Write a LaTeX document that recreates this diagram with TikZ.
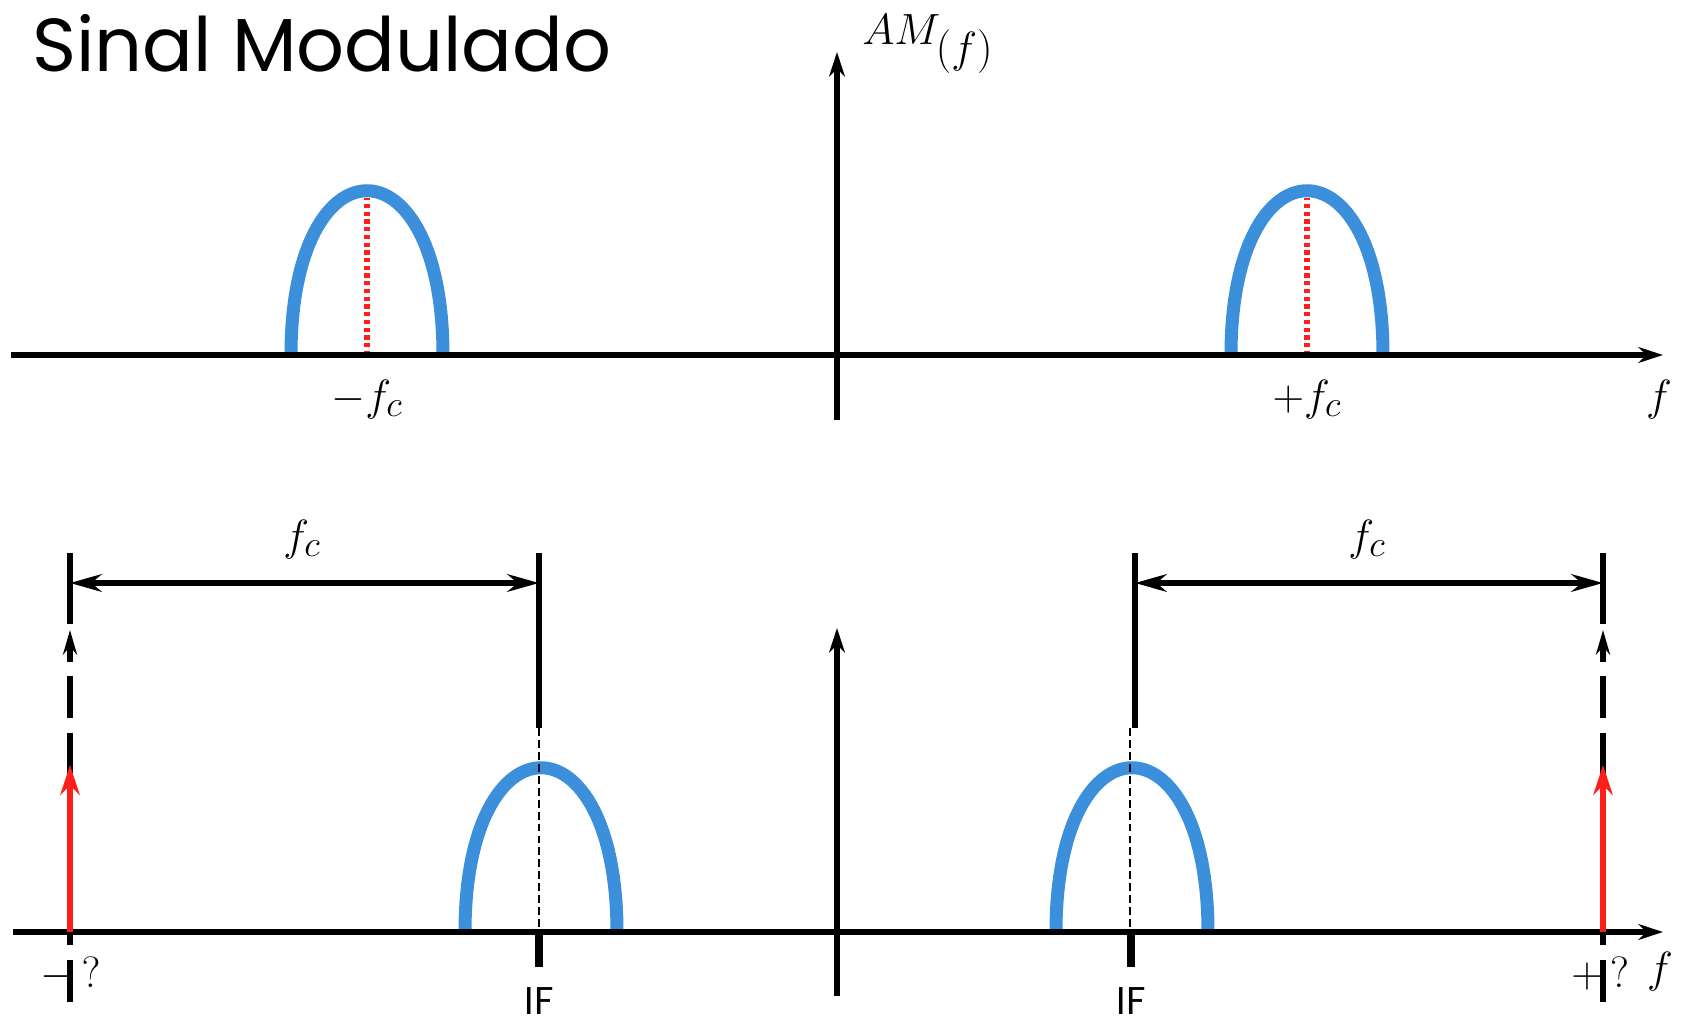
\documentclass[tikz,border=0pt]{standalone}
\usepackage{fontspec}
\usepackage{amsmath}
\usepackage{graphicx}
\usetikzlibrary{arrows.meta,positioning,calc}
\newfontfamily\titlefont{Poppins}
\definecolor{lobeblue}{HTML}{3B8FDB}
\definecolor{markred}{HTML}{FF1F1A}

\begin{document}
\begin{tikzpicture}[x=0.02cm, y=-0.02cm,
  axisline/.style={line width=3pt, -{Stealth[length=14pt, width=9pt]}},
  lobe/.style={line width=7.4pt, draw=lobeblue},
  carrier/.style={line width=3pt, draw=markred, dash pattern=on 2.4pt off 2pt},
  guide/.style={line width=1.1pt, dash pattern=on 4.5pt off 2.3pt},
  mkline/.style={line width=3pt},
  fcspan/.style={line width=3pt, {Stealth[length=18pt, width=10pt]}-{Stealth[length=18pt, width=10pt]}},
  imgarrow/.style={line width=3pt, dash pattern=on 23.8pt off 8.5pt, -{Stealth[length=14pt, width=8pt]}},
  loarrow/.style={line width=3.6pt, draw=markred, -{Stealth[length=17pt, width=11pt]}},
  iftick/.style={line width=4pt},
  mlabel/.style={font=\fontsize{24.88}{30}\selectfont, inner sep=0pt},
  qlabel/.style={font=\fontsize{24.88}{30}\selectfont, inner sep=0pt},
  iflabel/.style={font=\titlefont\fontsize{22}{26}\selectfont, inner sep=0pt}
]
  \useasboundingbox (0,0) rectangle (1688,1027);

  \node[anchor=base west, inner sep=0pt] (title) at (32,72) {\resizebox{11.58cm}{!}{\titlefont\fontsize{45}{50}\selectfont Sinal Modulado}};

  % spectra
  \foreach \c/\b in {367/355, 1307/355, 541/932, 1132/932}
    \draw[lobe] ({\c-76},\b) .. controls ({\c-76},{\b-219}) and ({\c+76},{\b-219}) .. ({\c+76},\b);

  % top panel
  \coordinate (t0) at (11,355);
  \coordinate (t1) at (1663,355);
  \coordinate (tv0) at (837,420);
  \coordinate (tv1) at (837,52);
  \coordinate (cl0) at (367,355);
  \coordinate (cl1) at (367,198);
  \coordinate (cr0) at (1307,355);
  \coordinate (cr1) at (1307,198);
  \draw[carrier] (cl0) -- (cl1);
  \draw[carrier] (cr0) -- (cr1);
  \draw[axisline] (t0) -- (t1);
  \draw[axisline] (tv0) -- (tv1);

  \node[mlabel, anchor=base west] (amf) at (862,45) {$AM_{\scalebox{1.2}{$\scriptstyle(f)$}}$};
  \node[mlabel, anchor=base] (mfc) at (367,410) {$-f_c$};
  \node[mlabel, anchor=base] (pfc) at (1307,410) {$+f_c$};
  \node[mlabel, anchor=base] (ftop) at (1659,410) {$f$};

  % bottom panel
  \coordinate (b0) at (13,932);
  \coordinate (b1) at (1663,932);
  \coordinate (bv0) at (837,996);
  \coordinate (bv1) at (837,628);
  \coordinate (mkl0) at (539,553);
  \coordinate (mkl1) at (539,728);
  \coordinate (mkr0) at (1135,553);
  \coordinate (mkr1) at (1135,728);
  \coordinate (ol0) at (70,553);
  \coordinate (ol1) at (70,624);
  \coordinate (or0) at (1603,553);
  \coordinate (or1) at (1603,624);
  \coordinate (spl0) at (70,583);
  \coordinate (spl1) at (539,583);
  \coordinate (spr0) at (1135,583);
  \coordinate (spr1) at (1603,583);
  \coordinate (gl0) at (539,728);
  \coordinate (gl1) at (539,932);
  \coordinate (gr0) at (1130,728);
  \coordinate (gr1) at (1130,932);
  \coordinate (il0) at (70,1002);
  \coordinate (il1) at (70,630);
  \coordinate (ir0) at (1603,1002);
  \coordinate (ir1) at (1603,630);
  \coordinate (rl0) at (70,932);
  \coordinate (rl1) at (70,765);
  \coordinate (rr0) at (1603,932);
  \coordinate (rr1) at (1603,765);
  \coordinate (kl0) at (539,932);
  \coordinate (kl1) at (539,967);
  \coordinate (kr0) at (1131,932);
  \coordinate (kr1) at (1131,967);

  \draw[guide] (gl0) -- (gl1);
  \draw[guide] (gr0) -- (gr1);
  \draw[mkline] (mkl0) -- (mkl1);
  \draw[mkline] (mkr0) -- (mkr1);
  \draw[mkline] (ol0) -- (ol1);
  \draw[mkline] (or0) -- (or1);
  \draw[fcspan] (spl0) -- (spl1);
  \draw[fcspan] (spr0) -- (spr1);
  \draw[imgarrow] (il0) -- (il1);
  \draw[imgarrow] (ir0) -- (ir1);
  \draw[axisline] (b0) -- (b1);
  \draw[axisline] (bv0) -- (bv1);
  \draw[loarrow] (rl0) -- (rl1);
  \draw[loarrow] (rr0) -- (rr1);
  \draw[iftick] (kl0) -- (kl1);
  \draw[iftick] (kr0) -- (kr1);

  \node[mlabel, anchor=base] (fcl) at (302,550) {$f_c$};
  \node[mlabel, anchor=base] (fcr) at (1367,550) {$f_c$};
  \node[mlabel, anchor=base] (fbot) at (1660,982) {$f$};
  \node[qlabel, anchor=base west] (lq) at (40,987) {$-\,?$};
  \node[qlabel, anchor=base west] (rq) at (1571,987) {$+\,?$};
  \node[iflabel, anchor=base] (ifl) at (539,1014) {IF};
  \node[iflabel, anchor=base] (ifr) at (1131,1014) {IF};
\end{tikzpicture}
\end{document}
